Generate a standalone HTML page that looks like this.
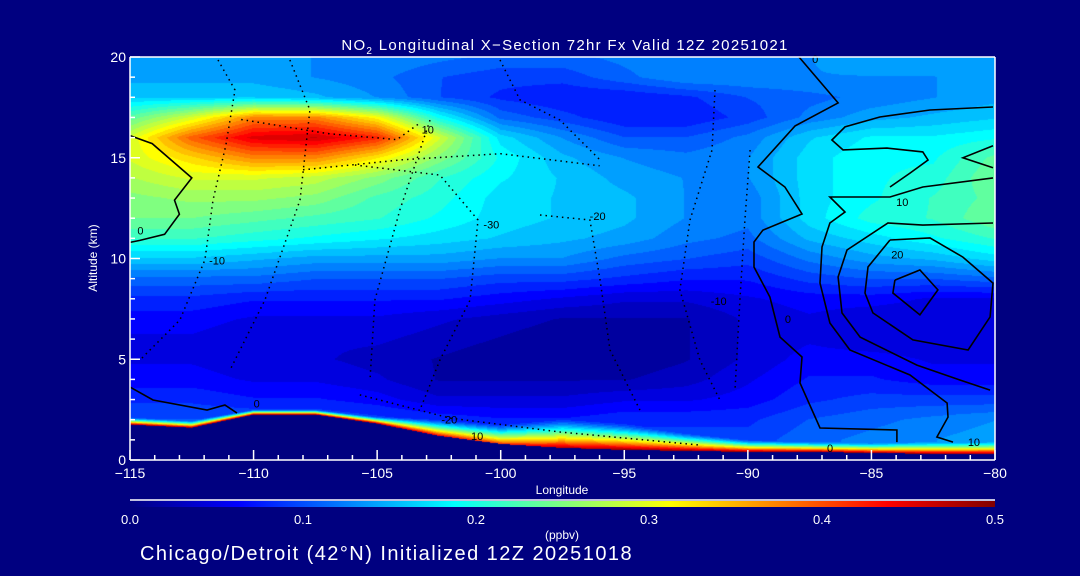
<!DOCTYPE html>
<html><head><meta charset="utf-8">
<style>
html,body{margin:0;padding:0;background:#000080;width:1080px;height:576px;overflow:hidden}
#wrap{position:relative;width:1080px;height:576px;font-family:"Liberation Sans",sans-serif}
#field{position:absolute;left:130px;top:57px}
#ov{position:absolute;left:0;top:0}
</style></head>
<body>
<div id="wrap">
<canvas id="field" width="865" height="403"></canvas>
<svg id="ov" width="1080" height="576" xmlns="http://www.w3.org/2000/svg">
<g id="contours"></g>
<g id="axes"></g>
<text x="565" y="50" fill="#fff" font-size="15" letter-spacing="1.3" text-anchor="middle">NO<tspan font-size="10" dy="4">2</tspan><tspan dy="-4"> Longitudinal X−Section 72hr  Fx Valid 12Z 20251021</tspan></text>
<text x="97" y="258" fill="#fff" font-size="12" text-anchor="middle" transform="rotate(-90 97 258)">Altitude (km)</text>
<text x="562" y="494" fill="#fff" font-size="12" text-anchor="middle">Longitude</text>
<line x1="130" y1="500" x2="995" y2="500" stroke="#fff" stroke-width="1.5"/>
<defs><linearGradient id="jet" x1="0" x2="1" y1="0" y2="0">
<stop offset="0" stop-color="#000080"/><stop offset="0.125" stop-color="#0000ff"/><stop offset="0.375" stop-color="#00ffff"/><stop offset="0.625" stop-color="#ffff00"/><stop offset="0.875" stop-color="#ff0000"/><stop offset="1" stop-color="#800000"/></linearGradient></defs>
<rect x="130" y="501" width="865" height="6" fill="url(#jet)"/>
<g id="cbticks"></g>
<text x="562" y="539" fill="#fff" font-size="12" text-anchor="middle">(ppbv)</text>
<text x="140" y="560" fill="#fff" font-size="20" letter-spacing="1.45">Chicago/Detroit (42°N) Initialized 12Z 20251018</text>
</svg>
</div>
<script>
// ---- data ----
const lons = [-115,-112.5,-110,-107.5,-105,-102.5,-100,-97.5,-95,-92.5,-90,-87.5,-85,-82.5,-80];
// rows from altitude 20 km (top) down to 0 km
const no2Rows = [
[.15,.15,.15,.14,.14,.13,.12,.12,.13,.14,.14,.14,.15,.15,.15],
[.15,.15,.15,.14,.13,.11,.10,.10,.12,.14,.14,.14,.14,.14,.15],
[.17,.17,.17,.16,.14,.11,.09,.08,.08,.09,.11,.12,.13,.14,.15],
[.24,.30,.38,.38,.32,.20,.12,.10,.08,.08,.10,.13,.15,.16,.17],
[.30,.40,.46,.47,.43,.30,.18,.14,.11,.11,.13,.17,.19,.19,.20],
[.30,.34,.38,.38,.33,.26,.20,.16,.14,.13,.14,.18,.20,.20,.24],
[.28,.30,.30,.29,.26,.22,.19,.17,.15,.14,.14,.18,.20,.21,.25],
[.26,.27,.27,.26,.23,.21,.18,.17,.16,.14,.13,.18,.20,.22,.24],
[.25,.25,.24,.23,.22,.20,.18,.17,.16,.14,.13,.18,.21,.22,.25],
[.22,.22,.21,.20,.19,.18,.17,.16,.15,.13,.12,.16,.18,.20,.22],
[.17,.17,.16,.15,.15,.15,.14,.14,.12,.11,.10,.13,.15,.16,.18],
[.12,.12,.12,.11,.11,.11,.10,.10,.09,.08,.08,.10,.11,.11,.12],
[.09,.09,.08,.08,.08,.08,.07,.06,.05,.05,.06,.07,.07,.06,.06],
[.07,.07,.06,.06,.06,.05,.04,.03,.03,.03,.05,.06,.05,.05,.05],
[.06,.06,.05,.05,.05,.04,.03,.02,.02,.03,.05,.06,.05,.05,.05],
[.06,.06,.05,.05,.04,.03,.02,.02,.02,.03,.05,.07,.07,.06,.06],
[.07,.07,.06,.06,.05,.03,.03,.03,.03,.04,.06,.08,.08,.07,.07],
[.09,.09,.08,.08,.07,.05,.05,.05,.06,.06,.07,.09,.10,.10,.10],
[.11,.11,.11,.11,.10,.09,.08,.08,.09,.09,.09,.11,.12,.13,.14],
[.12,.12,.12,.12,.11,.10,.09,.09,.10,.10,.10,.12,.13,.14,.15],
[.12,.12,.12,.12,.11,.10,.09,.09,.10,.10,.10,.12,.13,.14,.15]];
const terrainKm = [1.75,1.6,2.25,2.25,1.8,1.2,0.8,0.6,0.5,0.45,0.4,0.4,0.35,0.3,0.3];
const blThickKm = [0.35,0.35,0.25,0.25,0.35,0.8,1.0,1.5,1.3,0.9,0.6,0.5,0.5,0.6,0.6];
const blPeak = [.5,.5,.5,.5,.5,.45,.42,.48,.5,.5,.5,.5,.5,.5,.5];
const xTicks = [-115,-110,-105,-100,-95,-90,-85,-80];
const yTicks = [0,5,10,15,20];
const cbTicks = ["0.0","0.1","0.2","0.3","0.4","0.5"];
const solidContours = [
[[-115,16.1],[-114.1,15.7],[-112.5,14.0],[-113.2,12.9],[-113.0,12.2],[-113.6,11.2],[-114.6,10.9],[-115,10.8]],
[[-115,3.62],[-114.07,2.98],[-111.88,2.48],[-111.16,2.73],[-110.67,2.33]],
[[-87.93,20.0],[-86.35,17.72],[-88.09,16.58],[-89.59,14.54],[-88.5,13.55],[-87.81,12.21],[-89.39,11.41],[-89.75,10.82],[-89.75,9.58],[-89.11,8.09],[-88.7,6.1],[-87.81,5.11],[-87.89,3.82],[-87.08,1.59],[-83.97,1.49],[-83.97,0.89]],
[[-84.05,8.93],[-83.04,9.43],[-82.31,8.44],[-83.04,7.2],[-84.13,8.29],[-84.05,8.93]],
[[-84.25,10.92],[-82.63,11.02],[-81.3,10.07],[-80.08,8.78],[-80.2,7.1],[-81.09,5.46],[-83.32,5.96],[-84.94,7.3],[-85.26,8.29],[-85.14,9.58],[-84.25,10.92]],
[[-80.08,11.76],[-82.92,11.66],[-84.33,11.76],[-85.99,10.42],[-86.35,9.08],[-86.19,7.3],[-85.46,6.1],[-83.16,4.71],[-81.42,3.97],[-80.2,3.47]],
[[-80.08,14.0],[-82.92,13.55],[-84.25,13.05],[-86.68,13.05],[-86.07,12.31],[-86.68,11.76],[-87.0,10.57],[-87.08,8.78],[-86.68,6.8],[-85.87,5.46],[-83.44,4.22],[-81.94,2.83],[-81.9,2.13],[-82.35,1.14],[-81.7,0.89]],
[[-80.08,17.52],[-82.63,17.37],[-84.66,17.02],[-86.07,16.53],[-86.6,15.88],[-86.15,15.39],[-84.37,15.48],[-82.92,15.29],[-82.71,14.89],[-83.44,14.24],[-84.25,13.55]],
[[-80.08,15.6],[-81.3,15.0],[-80.08,14.5]]];
const dottedContours = [
[[-111.44,19.85],[-110.75,18.36],[-111.12,15.63],[-111.64,12.9],[-111.97,9.93],[-112.98,6.95],[-114.6,4.96]],
[[-108.53,19.85],[-107.72,17.37],[-108.12,12.9],[-109.54,7.94],[-110.95,4.47]],
[[-102.86,16.87],[-104.08,12.41],[-105.09,7.94],[-105.29,3.97]],
[[-105.9,14.64],[-102.46,14.14],[-100.92,11.91],[-101.24,7.94],[-102.46,4.96],[-103.27,2.48]],
[[-98.41,12.16],[-96.39,11.91],[-95.98,8.93],[-95.58,5.46],[-94.37,2.48]],
[[-91.33,18.36],[-91.45,15.38],[-92.34,11.91],[-92.75,8.44],[-91.94,4.96],[-91.13,2.98]],
[[-89.91,15.38],[-90.12,11.91],[-90.32,7.94],[-90.52,3.47]],
[[-100.03,19.85],[-99.22,17.87],[-97.6,16.87],[-95.98,14.89]],
[[-105.7,3.23],[-102.05,2.08],[-97.6,1.39],[-91.94,0.74]],
[[-110.5,16.9],[-107.0,16.2],[-104.2,15.9],[-103.3,16.7]],
[[-108.0,14.4],[-104.0,14.9],[-100.0,15.2],[-96.0,14.6]]];
const contourLabels = [["0",-114.7,11.2],["-10",-111.8,9.7],["10",-103.2,16.2],["-30",-100.7,11.5],["-20",-96.4,11.9],["-10",-91.5,7.7],["0",-87.4,19.7],["0",-88.5,6.8],["10",-84.0,12.6],["20",-84.2,10.0],["-20",-102.4,1.8],["10",-101.2,1.0],["0",-110.0,2.6],["0",-86.8,0.4],["10",-81.1,0.7]];
// ---- scales ----
const X0=130,X1=995,Y0=460,Y1=57;
const xs = l => X0 + (l+115)/35*(X1-X0);
const ys = a => Y0 - a/20*(Y0-Y1);
function interp(arr,l){let g=(l+115)/2.5;let i=Math.max(0,Math.min(arr.length-2,Math.floor(g)));let f=g-i;return arr[i]*(1-f)+arr[i+1]*f;}
function jet(v){let t=Math.max(0,Math.min(1,v/0.5));t=Math.floor(t*32)/32;const c=x=>Math.round(255*Math.max(0,Math.min(1,x)));return [c(1.5-Math.abs(4*t-3)),c(1.5-Math.abs(4*t-2)),c(1.5-Math.abs(4*t-1))];}
// ---- field ----
const cv=document.getElementById('field');const ctx=cv.getContext('2d');
const W=cv.width,H=cv.height;const img=ctx.createImageData(W,H);
for(let px=0;px<W;px++){
  const lon=-115+(px+0.5)/W*35;
  const h=interp(terrainKm,lon),t=interp(blThickKm,lon),p=interp(blPeak,lon);
  let gx=(lon+115)/2.5;let i=Math.min(13,Math.floor(gx));let fx=gx-i;
  for(let py=0;py<H;py++){
    const alt=(Y0-(Y1+py+0.5))/(Y0-Y1)*20;
    let rgb;
    if(alt<h){rgb=[0,0,128];}
    else{
      let r=20-alt;let j=Math.max(0,Math.min(19,Math.floor(r)));let fy=r-j;
      const a=no2Rows[j][i]*(1-fx)+no2Rows[j][i+1]*fx;
      const b=no2Rows[j+1][i]*(1-fx)+no2Rows[j+1][i+1]*fx;
      let v=a*(1-fy)+b*fy;
      if(alt<h+t){const f=(alt-h)/t;const w=Math.pow(1-f,1.3);v=v*(1-w)+p*w;}
      rgb=jet(v);
    }
    const k=(py*W+px)*4;img.data[k]=rgb[0];img.data[k+1]=rgb[1];img.data[k+2]=rgb[2];img.data[k+3]=255;
  }
}
ctx.putImageData(img,0,0);
// ---- contours ----
const NS='http://www.w3.org/2000/svg';
const cg=document.getElementById('contours');
function pts(c){return c.map(q=>xs(q[0]).toFixed(1)+','+ys(q[1]).toFixed(1)).join(' ');}
solidContours.forEach(c=>{const e=document.createElementNS(NS,'polyline');e.setAttribute('points',pts(c));e.setAttribute('fill','none');e.setAttribute('stroke','#000');e.setAttribute('stroke-width','1.6');


cg.appendChild(e);});
dottedContours.forEach(c=>{const e=document.createElementNS(NS,'polyline');e.setAttribute('points',pts(c));e.setAttribute('fill','none');e.setAttribute('stroke','#000');e.setAttribute('stroke-width','1.5');e.setAttribute('stroke-dasharray','1.5 4');


cg.appendChild(e);});
contourLabels.forEach(c=>{const e=document.createElementNS(NS,'text');e.setAttribute('x',xs(c[1]));e.setAttribute('y',ys(c[2]));e.setAttribute('font-size','11');e.setAttribute('fill','#000');e.textContent=c[0];


cg.appendChild(e);});
// ---- axes ----
const ax=document.getElementById('axes');
function ln(x1,y1,x2,y2,name){const e=document.createElementNS(NS,'line');e.setAttribute('x1',x1);e.setAttribute('y1',y1);e.setAttribute('x2',x2);e.setAttribute('y2',y2);e.setAttribute('stroke','#fff');e.setAttribute('stroke-width','1.5');


ax.appendChild(e);}
ln(X0,Y0,X1,Y0,'x-axis-line');ln(X0,Y1,X1,Y1,'top-border');ln(X0,Y0,X0,Y1,'y-axis-line');ln(X1,Y0,X1,Y1,'right-border');
for(let l=-115;l<=-80;l++){const major=(l%5===0);ln(xs(l),Y0,xs(l),Y0-(major?10:5),'x-tick');}
for(let a=0;a<=20;a++){const major=(a%5===0);ln(X0,ys(a),X0+(major?10:5),ys(a),'y-tick');}
xTicks.forEach(l=>{const e=document.createElementNS(NS,'text');e.setAttribute('x',xs(l));e.setAttribute('y',Y0+18);e.setAttribute('fill','#fff');e.setAttribute('font-size','14');e.setAttribute('text-anchor','middle');e.textContent=(l<0?'−':'')+Math.abs(l);


ax.appendChild(e);});
yTicks.forEach(a=>{const e=document.createElementNS(NS,'text');e.setAttribute('x',X0-4);e.setAttribute('y',ys(a)+5);e.setAttribute('fill','#fff');e.setAttribute('font-size','14');e.setAttribute('text-anchor','end');e.textContent=a;


ax.appendChild(e);});
const cbg=document.getElementById('cbticks');
cbTicks.forEach((s,k)=>{const e=document.createElementNS(NS,'text');e.setAttribute('x',X0+k*(X1-X0)/5);e.setAttribute('y',524);e.setAttribute('fill','#fff');e.setAttribute('font-size','13');e.setAttribute('text-anchor','middle');e.textContent=s;


cbg.appendChild(e);});
</script>
</body></html>
